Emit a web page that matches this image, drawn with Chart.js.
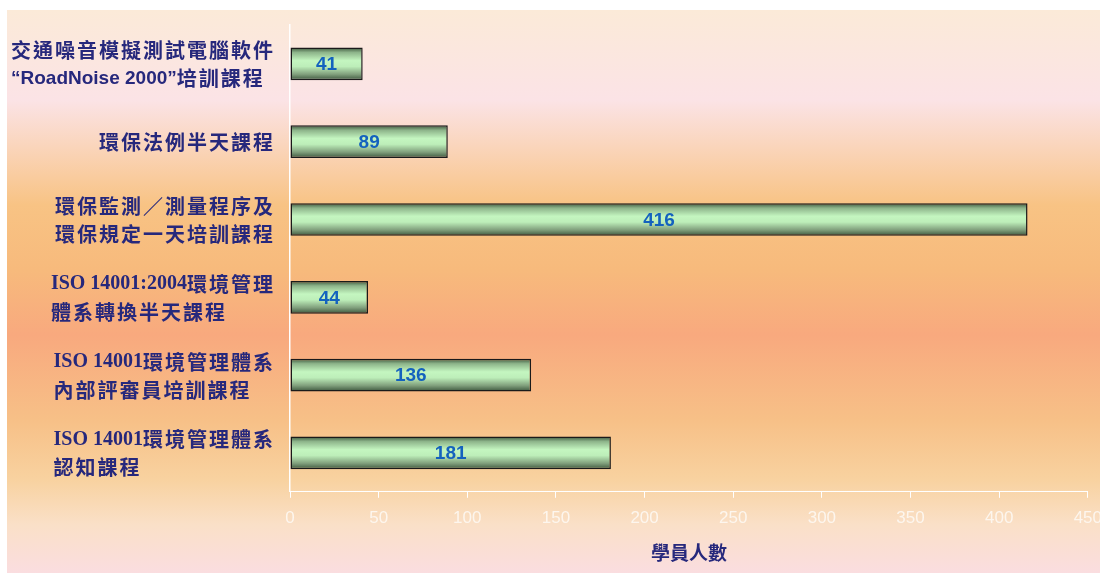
<!DOCTYPE html>
<html>
<head>
<meta charset="utf-8">
<script src="https://cdn.jsdelivr.net/npm/chart.js@4/dist/chart.umd.min.js"></script>
<style>
  html, body { margin: 0; padding: 0; background: #fff; overflow: hidden; }
  #wrap { position: absolute; left: 0; top: 0; width: 1112px; height: 576px; }
</style>
</head>
<body>
<div id="wrap"><canvas id="courseChart" width="1112" height="576"></canvas></div>
<script>
// 課程名稱 (多行)
const courses = [
    ['交通噪音模擬測試電腦軟件', '“RoadNoise 2000”培訓課程'],
    ['環保法例半天課程'],
    ['環保監測／測量程序及', '環保規定一天培訓課程'],
    ['ISO 14001:2004環境管理', '體系轉換半天課程'],
    ['ISO 14001環境管理體系', '內部評審員培訓課程'],
    ['ISO 14001環境管理體系', '認知課程']
];
const students = [41, 89, 416, 44, 136, 181];
const xTicks = [0, 50, 100, 150, 200, 250, 300, 350, 400, 450];
const xTitle = '學員人數';

const LABEL_COLOR = '#26287c';
const BAR_PCT = 0.42;

// background panel
const bgPlugin = {
    id: 'bgPanel',
    beforeDraw(chart) {
        const c = chart.ctx;
        const top = 10, bottom = 573;
        const g = c.createLinearGradient(0, top, 0, bottom);
        const f = y => (y - top) / (bottom - top);
        g.addColorStop(0, '#fbead8');
        g.addColorStop(f(100), '#fbe3e6');
        g.addColorStop(f(150), '#fad4b8');
        g.addColorStop(f(205), '#f8c384');
        g.addColorStop(f(270), '#f7ba7c');
        g.addColorStop(f(335), '#f8a97e');
        g.addColorStop(f(420), '#f7c087');
        g.addColorStop(f(480), '#f8d2a0');
        g.addColorStop(f(525), '#fae0c8');
        g.addColorStop(1, '#fadde0');
        c.save();
        c.fillStyle = '#ffffff';
        c.fillRect(0, 0, chart.width, chart.height);
        c.fillStyle = g;
        c.fillRect(7, top, chart.width - 7, bottom - top);
        c.restore();
    }
};

// cylinder-like shading, built from the category scale
function barFill(context) {
    const chart = context.chart;
    const yScale = chart.scales.y;
    if (!yScale || !chart.chartArea) return '#b8e8b4';
    const yc = yScale.getPixelForValue(context.dataIndex);
    const h = (yScale.bottom - yScale.top) / courses.length * BAR_PCT;
    const g = chart.ctx.createLinearGradient(0, yc - h / 2, 0, yc + h / 2);
    g.addColorStop(0, '#3b553c');
    g.addColorStop(0.15, '#8db48a');
    g.addColorStop(0.4, '#c4f6c0');
    g.addColorStop(0.58, '#bdeeb9');
    g.addColorStop(0.82, '#809f7c');
    g.addColorStop(1, '#3b553c');
    return g;
}

const valueLabels = {
    id: 'valueLabels',
    afterDatasetsDraw(chart) {
        const c = chart.ctx;
        c.save();
        c.font = 'bold 19px "Liberation Sans", Arial, sans-serif';
        c.fillStyle = '#1462be';
        c.textAlign = 'center';
        c.textBaseline = 'middle';
        chart.getDatasetMeta(0).data.forEach((el, i) => {
            c.fillText(String(students[i]), (el.x + el.base) / 2, el.y + 1);
        });
        c.restore();
    }
};

// category labels: lines left-aligned, block right-aligned to the axis
const isCJK = ch => ch.charCodeAt(0) >= 0x2e80;
function runsOf(s) {
    const out = [];
    for (const ch of s) {
        const cjk = isCJK(ch);
        if (out.length && out[out.length - 1].cjk === cjk) out[out.length - 1].text += ch;
        else out.push({ text: ch, cjk });
    }
    return out;
}
function setRunFont(c, run, sans) {
    if (run.cjk) {
        c.font = 'bold 20px "Noto Sans CJK TC", sans-serif';
        if ('letterSpacing' in c) c.letterSpacing = '2px';
    } else {
        c.font = sans ? 'bold 19px "Liberation Sans", Arial, sans-serif'
                      : 'bold 20px "Liberation Serif", "Times New Roman", serif';
        if ('letterSpacing' in c) c.letterSpacing = '0px';
    }
}
function lineWidth(c, s) {
    const sans = s.indexOf('RoadNoise') >= 0;
    return runsOf(s).reduce((w, r) => { setRunFont(c, r, sans); return w + c.measureText(r.text).width; }, 0);
}
function drawLine(c, s, x, y) {
    const sans = s.indexOf('RoadNoise') >= 0;
    runsOf(s).forEach(r => {
        setRunFont(c, r, sans);
        c.fillText(r.text, x, y);
        x += c.measureText(r.text).width;
    });
}

const catLabels = {
    id: 'catLabels',
    afterDraw(chart) {
        const c = chart.ctx;
        const yScale = chart.scales.y;
        const right = 275;
        const lineH = 28;
        c.save();
        c.fillStyle = LABEL_COLOR;
        c.textBaseline = 'middle';
        c.textAlign = 'left';
        courses.forEach((lines, i) => {
            const maxW = Math.max(...lines.map(s => lineWidth(c, s)));
            const yc = yScale.getPixelForValue(i) + 1;
            const y0 = yc - (lines.length - 1) * lineH / 2;
            lines.forEach((s, k) => drawLine(c, s, right - maxW, y0 + k * lineH));
        });
        c.restore();
    }
};

new Chart(document.getElementById('courseChart'), {
    type: 'bar',
    data: {
        labels: courses,
        datasets: [{
            data: students,
            backgroundColor: barFill,
            borderColor: '#1a1a1a',
            borderWidth: 1.5,
            borderSkipped: false,
            categoryPercentage: 1,
            barPercentage: BAR_PCT
        }]
    },
    options: {
        indexAxis: 'y',
        responsive: false,
        animation: false,
        layout: { padding: { left: 290, right: 23, top: 25, bottom: 12 } },
        plugins: {
            legend: { display: false },
            tooltip: { enabled: false }
        },
        scales: {
            x: {
                min: 0,
                max: 450,
                afterBuildTicks(scale) {
                    scale.ticks = xTicks.map(v => ({ value: v }));
                },
                ticks: {
                    color: '#fdf6ee',
                    padding: 10,
                    font: { family: '"Liberation Sans", Arial, sans-serif', size: 17 }
                },
                grid: {
                    drawOnChartArea: false,
                    drawTicks: true,
                    tickLength: 6,
                    color: '#ffffff'
                },
                border: { color: '#ffffff', width: 1 },
                title: {
                    display: true,
                    text: xTitle,
                    color: LABEL_COLOR,
                    padding: { top: 3, bottom: 0 },
                    font: { family: '"Noto Sans CJK TC", sans-serif', size: 19, weight: 'bold' }
                }
            },
            y: {
                ticks: { display: false },
                grid: { display: false, drawTicks: false },
                border: { color: '#ffffff', width: 1.5 }
            }
        }
    },
    plugins: [bgPlugin, valueLabels, catLabels]
});
</script>
</body>
</html>
